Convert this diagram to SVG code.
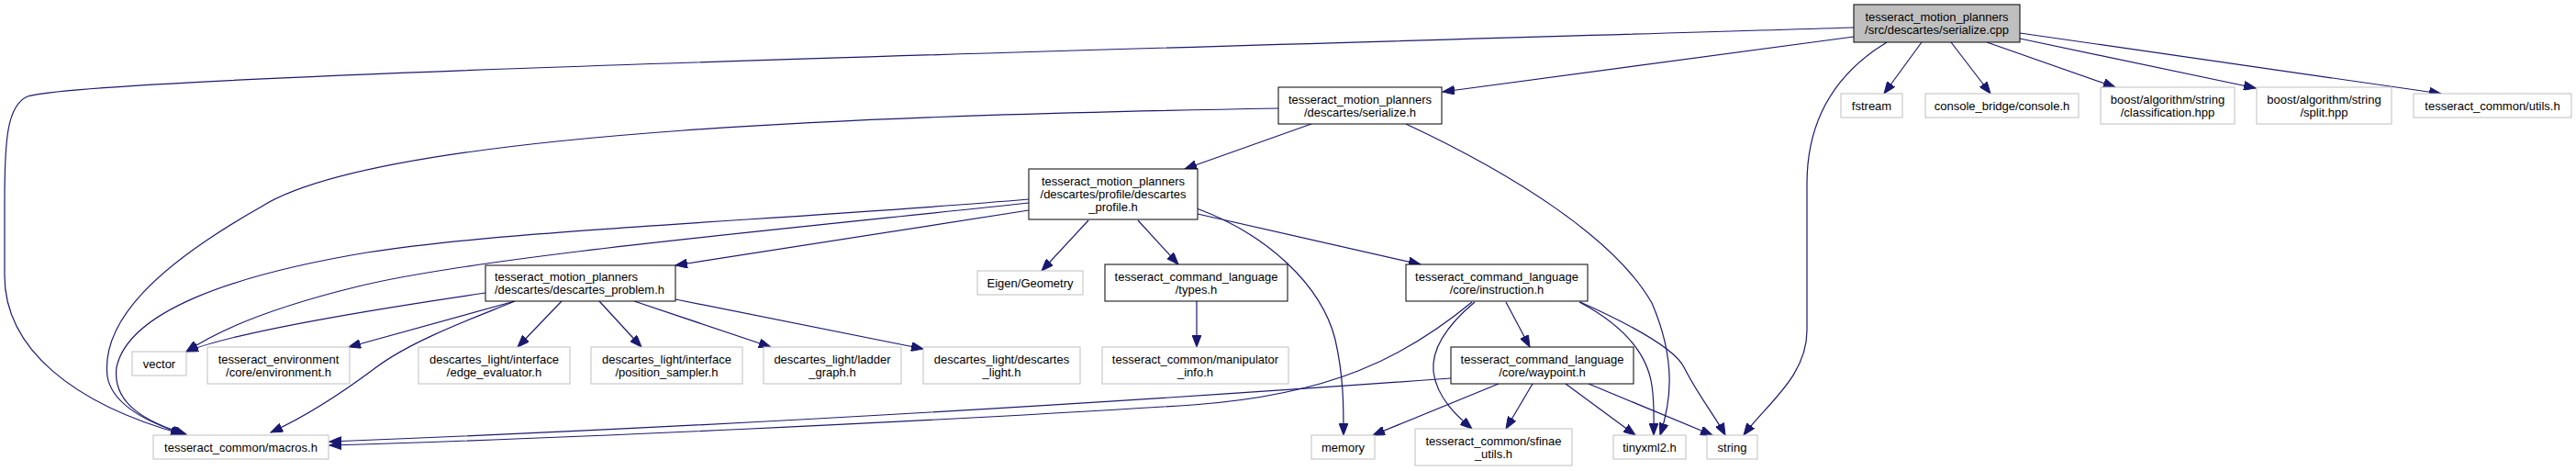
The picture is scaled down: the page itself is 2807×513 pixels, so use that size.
<svg xmlns="http://www.w3.org/2000/svg" width="2807" height="513" viewBox="0 0 2807 513">
<style>
.n rect{fill:#fff;stroke:#000;stroke-width:1}
.n.g rect{stroke:#bfbfbf}
.n.root rect{fill:#bfbfbf;stroke:#000}
.n text{font-family:"Liberation Sans",Arial,sans-serif;font-size:13px;fill:#000;text-anchor:middle}
.n text.l{text-anchor:start}
#edges path{fill:none;stroke:#191970;stroke-width:1.2;marker-end:url(#a)}
</style>
<defs>
<marker id="a" markerWidth="14" markerHeight="10" refX="13" refY="5" orient="auto" markerUnits="userSpaceOnUse">
<path d="M0,0 L13,5 L0,10 z" fill="#191970" stroke="#191970" stroke-width="1"/>
</marker>
</defs>
<rect width="2807" height="513" fill="#fff"/>
<g id="edges">
<path d="M2020,40 L1572,100"/>
<path d="M2020,30 C1300,52 100,82 30,105 C8,115 5,150 5,220 L5,300 C5,380 80,440 199,473"/>
<path d="M2094,46 L2053,102"/>
<path d="M2126,46 L2169,102"/>
<path d="M2165,46 L2305,95"/>
<path d="M2201,42 L2458,96"/>
<path d="M2201,36 L2660,102"/>
<path d="M2056,46 C2000,80 1969,130 1969,200 L1969,360 C1969,410 1925,440 1900,474"/>
<path d="M1393,118 C1000,125 420,140 285,225 C170,290 110,350 117,410 C122,440 160,460 201,473"/>
<path d="M1429,135 L1291,184"/>
<path d="M1532,135 C1650,190 1760,260 1800,330 C1828,395 1820,440 1809,474"/>
<path d="M1121,217 C850,240 560,250 400,275 C250,300 140,340 127,400 C122,440 160,460 203,473"/>
<path d="M1121,221 C850,250 520,280 390,312 C300,334 240,358 203,383"/>
<path d="M1121,229 L736,289"/>
<path d="M1186,240 L1135,295"/>
<path d="M1240,240 L1284,288"/>
<path d="M1304,227 C1380,255 1440,310 1455,370 C1464,410 1464,440 1464,474"/>
<path d="M1305,233 L1548,288"/>
<path d="M529,319 C420,335 260,360 203,383"/>
<path d="M561,328 L380,378"/>
<path d="M561,328 C520,345 450,370 410,400 C370,430 330,455 295,471"/>
<path d="M612,328 L564,378"/>
<path d="M653,328 L699,378"/>
<path d="M691,328 L840,378"/>
<path d="M736,326 L1006,380"/>
<path d="M1304,328 L1304,378"/>
<path d="M1604,329 C1530,390 1450,430 1300,441 C1000,460 600,478 359,485"/>
<path d="M1581,412 C1400,425 900,460 359,481"/>
<path d="M1607,329 C1570,360 1560,385 1562,405 C1566,435 1590,455 1604,467"/>
<path d="M1641,329 L1667,378"/>
<path d="M1721,329 C1770,355 1795,385 1800,420 C1803,440 1802,455 1802,474"/>
<path d="M1722,329 C1780,355 1825,380 1835,400 C1850,430 1870,455 1880,474"/>
<path d="M1633,418 L1496,474"/>
<path d="M1670,418 L1641,467"/>
<path d="M1706,418 L1782,474"/>
<path d="M1731,418 L1866,474"/>
</g>
<g id="n0" class="n root"><rect x="2020" y="5" width="181" height="41"/><text x="2110.5" y="23">tesseract_motion_planners</text><text x="2110.5" y="37">/src/descartes/serialize.cpp</text></g>
<g id="n1" class="n"><rect x="1393" y="95" width="178" height="40"/><text x="1482" y="112.5">tesseract_motion_planners</text><text x="1482" y="126.5">/descartes/serialize.h</text></g>
<g id="n2" class="n"><rect x="1121" y="184" width="184" height="55"/><text x="1213" y="202">tesseract_motion_planners</text><text x="1213" y="216">/descartes/profile/descartes</text><text x="1213" y="230">_profile.h</text></g>
<g id="n3" class="n"><rect x="529" y="289" width="207" height="39"/><text class="l" x="539" y="306">tesseract_motion_planners</text><text class="l" x="539" y="320">/descartes/descartes_problem.h</text></g>
<g id="n4" class="n g"><rect x="144" y="383" width="59" height="26"/><text x="173.5" y="400.5">vector</text></g>
<g id="n5" class="n g"><rect x="226" y="378" width="155" height="40"/><text x="303.5" y="395.5">tesseract_environment</text><text x="303.5" y="409.5">/core/environment.h</text></g>
<g id="n6" class="n g"><rect x="456" y="378" width="165" height="40"/><text x="538.5" y="395.5">descartes_light/interface</text><text x="538.5" y="409.5">/edge_evaluator.h</text></g>
<g id="n7" class="n g"><rect x="644" y="378" width="165" height="40"/><text x="726.5" y="395.5">descartes_light/interface</text><text x="726.5" y="409.5">/position_sampler.h</text></g>
<g id="n8" class="n g"><rect x="832" y="378" width="150" height="40"/><text x="907" y="395.5">descartes_light/ladder</text><text x="907" y="409.5">_graph.h</text></g>
<g id="n9" class="n g"><rect x="1006" y="378" width="171" height="40"/><text x="1091.5" y="395.5">descartes_light/descartes</text><text x="1091.5" y="409.5">_light.h</text></g>
<g id="n10" class="n g"><rect x="1201" y="378" width="203" height="40"/><text x="1302.5" y="395.5">tesseract_common/manipulator</text><text x="1302.5" y="409.5">_info.h</text></g>
<g id="n11" class="n"><rect x="1581" y="378" width="199" height="40"/><text x="1680.5" y="395.5">tesseract_command_language</text><text x="1680.5" y="409.5">/core/waypoint.h</text></g>
<g id="n12" class="n g"><rect x="1065" y="295" width="115" height="26"/><text x="1122.5" y="312.5">Eigen/Geometry</text></g>
<g id="n13" class="n"><rect x="1204" y="288" width="199" height="40"/><text x="1303.5" y="305.5">tesseract_command_language</text><text x="1303.5" y="319.5">/types.h</text></g>
<g id="n14" class="n"><rect x="1532" y="288" width="198" height="40"/><text x="1631" y="305.5">tesseract_command_language</text><text x="1631" y="319.5">/core/instruction.h</text></g>
<g id="n15" class="n g"><rect x="167" y="474" width="191" height="26"/><text x="262.5" y="491.5">tesseract_common/macros.h</text></g>
<g id="n16" class="n g"><rect x="1429" y="474" width="69" height="26"/><text x="1463.5" y="491.5">memory</text></g>
<g id="n17" class="n g"><rect x="1542" y="467" width="171" height="40"/><text x="1627.5" y="484.5">tesseract_common/sfinae</text><text x="1627.5" y="498.5">_utils.h</text></g>
<g id="n18" class="n g"><rect x="1758" y="474" width="79" height="26"/><text x="1797.5" y="491.5">tinyxml2.h</text></g>
<g id="n19" class="n g"><rect x="1860" y="474" width="55" height="26"/><text x="1887.5" y="491.5">string</text></g>
<g id="n20" class="n g"><rect x="2006" y="102" width="67" height="26"/><text x="2039.5" y="119.5">fstream</text></g>
<g id="n21" class="n g"><rect x="2098" y="102" width="167" height="26"/><text x="2181.5" y="119.5">console_bridge/console.h</text></g>
<g id="n22" class="n g"><rect x="2289" y="95" width="146" height="40"/><text x="2362" y="112.5">boost/algorithm/string</text><text x="2362" y="126.5">/classification.hpp</text></g>
<g id="n23" class="n g"><rect x="2459" y="95" width="147" height="40"/><text x="2532.5" y="112.5">boost/algorithm/string</text><text x="2532.5" y="126.5">/split.hpp</text></g>
<g id="n24" class="n g"><rect x="2630" y="102" width="172" height="26"/><text x="2716" y="119.5">tesseract_common/utils.h</text></g>
</svg>
